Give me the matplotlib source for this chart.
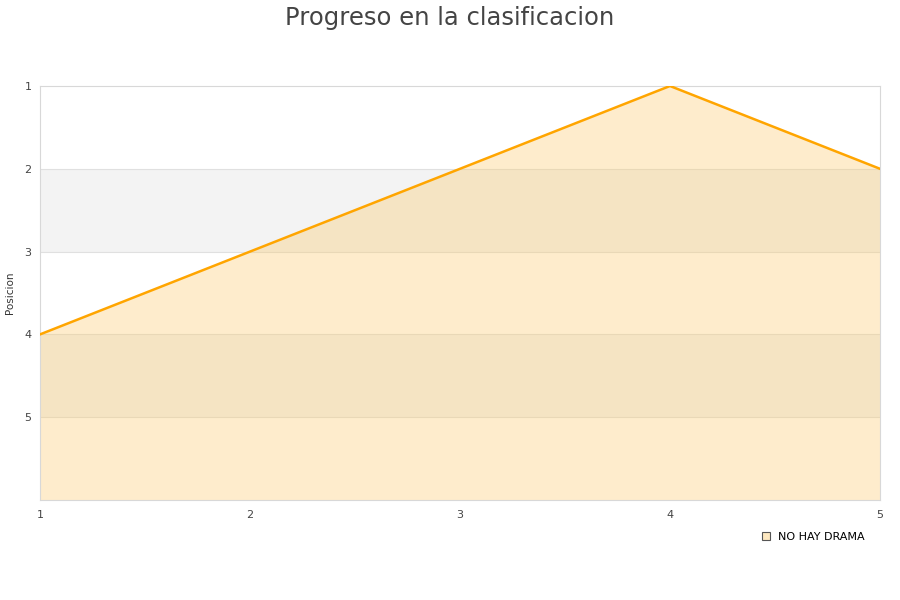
import matplotlib.pyplot as plt
from matplotlib.lines import Line2D

jornadas = [1, 2, 3, 4, 5]
posiciones = [4, 3, 2, 1, 2]
equipo = "NO HAY DRAMA"
yticks = [1, 2, 3, 4, 5]

fig = plt.figure(figsize=(9, 6), dpi=100)
ax = fig.add_axes([40 / 900, 100 / 600, 840 / 900, 414 / 600])

# alternating bands behind the translucent fill
for lo in (2, 4):
    ax.axhspan(lo, lo + 1, color="#f3f3f3", lw=0, zorder=0)
for y in range(2, 6):
    ax.axhline(y, color="#e0e0e0", lw=0.8, zorder=0.5)

ax.fill_between(jornadas, posiciones, 6, color="#fcc864", alpha=0.33, lw=0, zorder=1)
ax.plot(jornadas, posiciones, color="#ffa500", lw=1.8, zorder=3)

ax.set_xlim(1, 5)
ax.set_ylim(6, 1)
ax.set_xticks(jornadas)
ax.set_yticks(yticks)
ax.tick_params(length=0, labelsize=8, colors="#444444")
ax.tick_params(axis="x", pad=7)
ax.tick_params(axis="y", pad=6)
for s in ax.spines.values():
    s.set_color("#d8d8d8")
ax.set_ylabel("Posicion", fontsize=7.5, color="#333333", labelpad=7)

fig.suptitle("Progreso en la clasificacion", fontsize=17.5, color="#444444", y=0.99)

handle = Line2D([], [], marker="s", ls="none", markersize=6,
                markerfacecolor="#fde8c0", markeredgecolor="#555555", markeredgewidth=0.8)
fig.legend([handle], [equipo], loc="center left", bbox_to_anchor=(750 / 900, 1 - 537 / 600),
           frameon=False, fontsize=8, handletextpad=0.6, handlelength=1)

fig.savefig("out.png", dpi=100)
